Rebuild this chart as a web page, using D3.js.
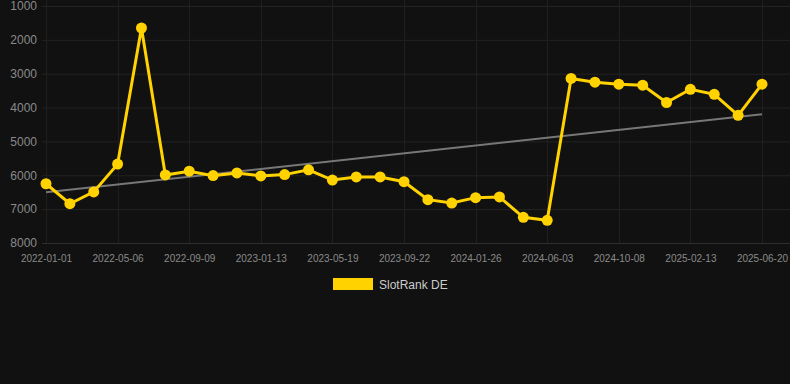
<!DOCTYPE html>
<html><head><meta charset="utf-8">
<script src="https://cdn.jsdelivr.net/npm/d3@7"></script>
<style>
html,body{margin:0;padding:0;background:#111111;}
svg{display:block;font-family:"Liberation Sans",Arial,sans-serif;}
</style></head>
<body>
<svg id="chart" width="790" height="384"></svg>
<script>
const dates = ["2022-01-01","2022-02-12","2022-03-25","2022-05-06","2022-06-17","2022-07-28","2022-09-09","2022-10-20","2022-12-01","2023-01-13","2023-02-23","2023-04-06","2023-05-19","2023-06-29","2023-08-10","2023-09-22","2023-11-02","2023-12-14","2024-01-26","2024-03-07","2024-04-18","2024-06-03","2024-07-15","2024-08-26","2024-10-08","2024-11-19","2024-12-31","2025-02-13","2025-03-27","2025-05-08","2025-06-20"];
const rankDE = [6250,6840,6490,5670,1650,5990,5880,6010,5930,6020,5980,5840,6140,6050,6050,6190,6720,6820,6660,6640,7240,7330,3140,3250,3310,3340,3850,3460,3610,4230,3310];
const yTicks = [1000,2000,3000,4000,5000,6000,7000,8000];
const seriesName = "SlotRank DE";

(function () {
const svg = d3.select("#chart");
const W = 790, H = 384;
const pLeft = 46, pRight = 762, pTop = 6, pBottom = 243;

const x = d3.scalePoint().domain(dates).range([pLeft, pRight]);
const y = d3.scaleLinear().domain([1000, 8000]).range([pTop, pBottom]);

svg.append("rect").attr("width", W).attr("height", H).attr("fill", "#111111");

// horizontal grid
svg.append("g").selectAll("line").data(yTicks).join("line")
  .attr("x1", 42).attr("x2", W)
  .attr("y1", d => y(d) + 0.5).attr("y2", d => y(d) + 0.5)
  .attr("stroke", d => d === 8000 ? "#2e2e2e" : "#232323").attr("stroke-width", 1);

const labeled = dates.filter((d, i) => i % 3 === 0);
// vertical grid
svg.append("g").selectAll("line").data(labeled).join("line")
  .attr("x1", d => Math.round(x(d)) + 0.5).attr("x2", d => Math.round(x(d)) + 0.5)
  .attr("y1", 0).attr("y2", pBottom)
  .attr("stroke", "#1f1f1f").attr("stroke-width", 1);

// y axis labels
const yAxis = d3.axisLeft(y).tickValues(yTicks).tickSize(0).tickPadding(0).tickFormat(d3.format("d"));
const gy = svg.append("g").attr("transform", "translate(37,0)").call(yAxis);
gy.select(".domain").remove();
gy.selectAll("text").attr("fill", "#8a8a8a").attr("font-size", 12)
  .attr("font-family", "'Liberation Sans',Arial,sans-serif");

// x axis labels
const xAxis = d3.axisBottom(x).tickValues(labeled).tickSize(0).tickPadding(0);
const gx = svg.append("g").attr("transform", "translate(0,255)").call(xAxis);
gx.select(".domain").remove();
gx.selectAll("text").attr("fill", "#8a8a8a").attr("font-size", 10).attr("dy", "0.71em")
  .attr("font-family", "'Liberation Sans',Arial,sans-serif");

// trend line (least squares)
const n = rankDE.length;
const xs = d3.range(n);
const mx = d3.mean(xs), my = d3.mean(rankDE);
const slope = d3.sum(xs, i => (i - mx) * (rankDE[i] - my)) / d3.sum(xs, i => (i - mx) ** 2);
const icpt = my - slope * mx;
svg.append("line")
  .attr("x1", x(dates[0])).attr("y1", y(icpt))
  .attr("x2", x(dates[n - 1])).attr("y2", y(icpt + slope * (n - 1)))
  .attr("stroke", "#777777").attr("stroke-width", 2);

// series line
const line = d3.line().x((d, i) => x(dates[i])).y(d => y(d));
svg.append("path").datum(rankDE).attr("d", line)
  .attr("fill", "none").attr("stroke", "#FFD200").attr("stroke-width", 3)
  .attr("stroke-linejoin", "miter");

svg.append("g").selectAll("circle").data(rankDE).join("circle")
  .attr("cx", (d, i) => x(dates[i])).attr("cy", d => y(d)).attr("r", 5.5)
  .attr("fill", "#FFD200");

// legend
svg.append("rect").attr("x", 333).attr("y", 278).attr("width", 40).attr("height", 12).attr("fill", "#FFD200");
svg.append("text").attr("x", 379).attr("y", 289).text(seriesName)
  .attr("fill", "#cccccc").attr("font-size", 12);
})();
</script>
</body></html>
